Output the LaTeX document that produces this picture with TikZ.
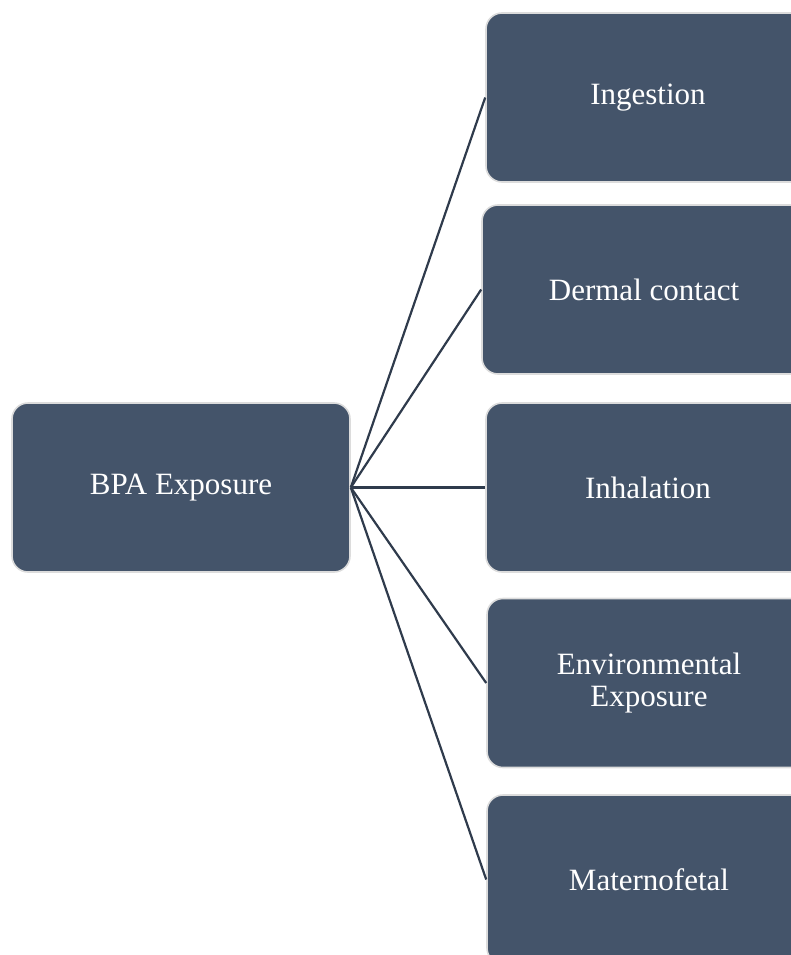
\documentclass[tikz,border=0pt]{standalone}
\usepackage{fontspec}
\setmainfont{Liberation Serif}
\definecolor{boxfill}{HTML}{44546A}
\definecolor{boxedge}{HTML}{DCDCDC}
\definecolor{linkcol}{HTML}{2F3B4C}
\begin{document}
\begin{tikzpicture}[x=1pt,y=-1pt,
  card/.style={rectangle, rounded corners=16pt, fill=boxfill, draw=boxedge,
    line width=1.6pt, text=white, align=center, inner sep=0pt,
    font=\fontsize{31}{32}\selectfont},
  hubcard/.style={card, minimum width=338pt, minimum height=169pt},
  leafcard/.style={card, minimum width=324pt, minimum height=169pt},
  link/.style={draw=linkcol, line width=2.2pt}]
  \useasboundingbox (0,0) rectangle (791,955);
  \clip (0,0) rectangle (791,955);

  % root
  \node[hubcard] (bpa) at (181,487.5) {BPA Exposure};

  % exposure routes (right column runs past the page edge)
  \node[leafcard] (ing) at (648,97.5)  {Ingestion};
  \node[leafcard] (der) at (644,289.5) {Dermal contact};
  \node[leafcard] (inh) at (648,487.5) {Inhalation};
  \node[leafcard] (env) at (649,683)   {Environmental\\Exposure};
  \node[leafcard] (mat) at (649,879.5) {Maternofetal};

  % fan of connectors from the root
  \foreach \t in {ing,der,inh,env,mat}
    \draw[link] (bpa.east) -- (\t.west);
\end{tikzpicture}
\end{document}
